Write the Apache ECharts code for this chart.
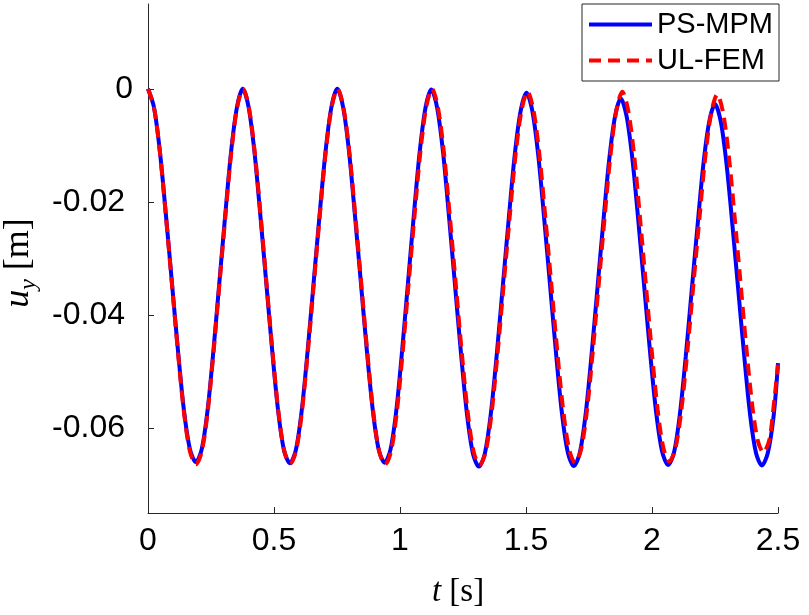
<!DOCTYPE html>
<html>
<head>
<meta charset="utf-8">
<script src="https://cdn.jsdelivr.net/npm/echarts@6/dist/echarts.min.js"></script>
<style>
html,body{margin:0;padding:0;background:#fff;}
#chart{width:809px;height:615px;}
</style>
</head>
<body>
<div id="chart"></div>
<script>
// Time samples and vertical displacement
const tMPM = [
0, 0.0238, 0.0475, 0.0713, 0.095, 0.1188, 0.1425, 0.1663, 0.19,
0.2133, 0.2365, 0.2598, 0.283, 0.3063, 0.3295, 0.3528, 0.376,
0.3994, 0.4228, 0.4461, 0.4695, 0.4929, 0.5163, 0.5396, 0.563,
0.5865, 0.61, 0.6335, 0.657, 0.6805, 0.704, 0.7275, 0.751,
0.7745, 0.798, 0.8215, 0.845, 0.8685, 0.892, 0.9155, 0.939,
0.9621, 0.9853, 1.0084, 1.0315, 1.0546, 1.0778, 1.1009, 1.124,
1.1476, 1.1713, 1.1949, 1.2185, 1.2421, 1.2658, 1.2894, 1.313,
1.3366, 1.3603, 1.3839, 1.4075, 1.4311, 1.4548, 1.4784, 1.502,
1.5255, 1.549, 1.5725, 1.596, 1.6195, 1.643, 1.6665, 1.690,
1.7133, 1.7365, 1.7598, 1.783, 1.8063, 1.8295, 1.8528, 1.876,
1.8995, 1.923, 1.9465, 1.97, 1.9935, 2.017, 2.0405, 2.064,
2.0873, 2.1105, 2.1338, 2.157, 2.1803, 2.2035, 2.2268, 2.250,
2.2733, 2.2965, 2.3198, 2.343, 2.3663, 2.3895, 2.4128, 2.436,
2.4595, 2.483, 2.5
];
const uMPM = [
0, -0.0033, -0.0112, -0.0224, -0.0343, -0.0462, -0.0568, -0.0637, -0.0660,
-0.0637, -0.0568, -0.0462, -0.0343, -0.0224, -0.0112, -0.0033, 0,
-0.0033, -0.0113, -0.0225, -0.0344, -0.0463, -0.0569, -0.0639, -0.0662,
-0.0639, -0.0569, -0.0463, -0.0344, -0.0225, -0.0113, -0.0033, 0,
-0.0033, -0.0112, -0.0225, -0.0344, -0.0463, -0.0568, -0.0638, -0.0661,
-0.0638, -0.0569, -0.0463, -0.0344, -0.0225, -0.0113, -0.0034, -0.0001,
-0.0034, -0.0114, -0.0228, -0.0348, -0.0468, -0.0575, -0.0645, -0.0668,
-0.0645, -0.0575, -0.0470, -0.0351, -0.0232, -0.0119, -0.0040, -0.0007,
-0.0040, -0.0119, -0.0231, -0.0350, -0.0469, -0.0575, -0.0644, -0.0667,
-0.0644, -0.0576, -0.0472, -0.0355, -0.0238, -0.0128, -0.0050, -0.0017,
-0.0049, -0.0127, -0.0237, -0.0354, -0.0471, -0.0574, -0.0642, -0.0665,
-0.0643, -0.0576, -0.0474, -0.0359, -0.0244, -0.0135, -0.0059, -0.0027,
-0.0059, -0.0136, -0.0244, -0.0359, -0.0474, -0.0577, -0.0644, -0.0666,
-0.0644, -0.0577, -0.0485
];
const tFEM = [
0, 0.0238, 0.0475, 0.0713, 0.095, 0.1188, 0.1425, 0.1663, 0.19,
0.2134, 0.2368, 0.2601, 0.2835, 0.3069, 0.3303, 0.3536, 0.377,
0.4004, 0.4238, 0.4471, 0.4705, 0.4939, 0.5173, 0.5406, 0.564,
0.5875, 0.611, 0.6345, 0.658, 0.6815, 0.705, 0.7285, 0.752,
0.7756, 0.7993, 0.8229, 0.8465, 0.8701, 0.8938, 0.9174, 0.941,
0.9643, 0.9875, 1.0108, 1.034, 1.0573, 1.0805, 1.1038, 1.127,
1.1506, 1.1743, 1.1979, 1.2215, 1.2451, 1.2688, 1.2924, 1.316,
1.3398, 1.3635, 1.3873, 1.411, 1.4348, 1.4585, 1.4823, 1.506,
1.5296, 1.5533, 1.5769, 1.6005, 1.6241, 1.6478, 1.6714, 1.695,
1.7184, 1.7418, 1.7651, 1.7885, 1.8119, 1.8353, 1.8586, 1.882,
1.9054, 1.9288, 1.9521, 1.9755, 1.9989, 2.0223, 2.0456, 2.069,
2.0928, 2.1165, 2.1403, 2.164, 2.1878, 2.2115, 2.2353, 2.259,
2.2819, 2.3048, 2.3276, 2.3505, 2.3734, 2.3963, 2.4191, 2.442,
2.4655, 2.483, 2.5
];
const uFEM = [
0, -0.0033, -0.0113, -0.0226, -0.0345, -0.0465, -0.0571, -0.0641, -0.0664,
-0.0641, -0.0571, -0.0465, -0.0345, -0.0226, -0.0113, -0.0033, 0,
-0.0033, -0.0113, -0.0225, -0.0345, -0.0464, -0.0570, -0.0640, -0.0663,
-0.0640, -0.0570, -0.0464, -0.0345, -0.0225, -0.0113, -0.0033, 0,
-0.0033, -0.0113, -0.0226, -0.0345, -0.0465, -0.0571, -0.0641, -0.0664,
-0.0641, -0.0571, -0.0465, -0.0345, -0.0226, -0.0113, -0.0033, 0,
-0.0033, -0.0113, -0.0226, -0.0346, -0.0466, -0.0572, -0.0642, -0.0665,
-0.0642, -0.0573, -0.0467, -0.0348, -0.0229, -0.0117, -0.0038, -0.0005,
-0.0038, -0.0117, -0.0228, -0.0346, -0.0464, -0.0569, -0.0638, -0.0661,
-0.0638, -0.0569, -0.0464, -0.0346, -0.0228, -0.0117, -0.0038, -0.0005,
-0.0038, -0.0116, -0.0227, -0.0345, -0.0463, -0.0567, -0.0636, -0.0659,
-0.0636, -0.0568, -0.0464, -0.0347, -0.0231, -0.0120, -0.0042, -0.0010,
-0.0042, -0.0118, -0.0225, -0.0339, -0.0453, -0.0554, -0.0621, -0.0643,
-0.0621, -0.0560, -0.0488
];
const seriesNames = ['PS-MPM', 'UL-FEM'];
const yTicks = [-0.06, -0.04, -0.02, 0];
const xTicks = [0, 0.5, 1, 1.5, 2, 2.5];

const pair = (t, u) => t.map((v, i) => [v, u[i]]);
const sans = '"Liberation Sans", Arial, Helvetica, sans-serif';
const serif = '"Liberation Serif", "Times New Roman", serif';
const axisCol = '#262626';

const chart = echarts.init(document.getElementById('chart'), null, {renderer: 'canvas'});
chart.setOption({
  animation: false,
  backgroundColor: '#ffffff',
  grid: {left: 148, right: 31, top: 4, bottom: 102, outerBoundsMode: 'none', containLabel: false},
  xAxis: {
    type: 'value', min: 0, max: 2.5, interval: 0.5,
    axisLine: {show: true, onZero: false, lineStyle: {color: axisCol, width: 1}},
    axisTick: {show: true, inside: true, length: 6, lineStyle: {color: axisCol}, customValues: xTicks},
    axisLabel: {customValues: xTicks, margin: 12, fontSize: 32, fontFamily: sans, color: '#000',
      formatter: v => String(v)},
    splitLine: {show: false}
  },
  yAxis: {
    type: 'value', min: -0.075, max: 0.015, interval: 0.005,
    axisLine: {show: true, onZero: false, lineStyle: {color: axisCol, width: 1}},
    axisTick: {show: true, inside: true, length: 6, lineStyle: {color: axisCol}, customValues: yTicks},
    axisLabel: {customValues: yTicks, margin: 15, color: '#000',
      formatter: v => Math.abs(v) < 1e-9 ? '{z|0}' : '{n|' + v.toFixed(2) + '}',
      rich: {
        z: {fontSize: 32, fontFamily: sans, color: '#000'},
        n: {fontSize: 32, fontFamily: sans, color: '#000', padding: [0, 8, 0, 0]}
      }},
    splitLine: {show: false}
  },
  legend: {
    orient: 'vertical', left: 582, top: 4,
    backgroundColor: '#ffffff', borderColor: axisCol, borderWidth: 1,
    padding: [6, 6, 6, 5], itemGap: 7, itemWidth: 63, itemHeight: 14,
    itemStyle: {opacity: 0},
    lineStyle: {width: 4},
    textStyle: {fontSize: 29, fontFamily: sans, color: '#000'},
    data: seriesNames
  },
  graphic: [
    {type: 'text', x: 458, y: 592,
      style: {text: '{i|t}{n| [s]}', align: 'center', verticalAlign: 'middle',
        rich: {i: {fontSize: 33, fontFamily: serif, fontStyle: 'italic', fill: '#000'},
               n: {fontSize: 33, fontFamily: serif, fill: '#000'}}}},
    {type: 'text', x: 19, y: 263, rotation: Math.PI / 2,
      style: {text: '{i|u}{s|y}{n| [m]}', align: 'center', verticalAlign: 'middle',
        rich: {i: {fontSize: 36, fontFamily: serif, fontStyle: 'italic', fill: '#000', lineHeight: 44, verticalAlign: 'middle'},
               s: {fontSize: 24, fontFamily: serif, fontStyle: 'italic', fill: '#000', lineHeight: 44, verticalAlign: 'bottom'},
               n: {fontSize: 36, fontFamily: serif, fill: '#000', lineHeight: 44, verticalAlign: 'middle'}}}}
  ],
  series: [
    {name: seriesNames[0], type: 'line', data: pair(tMPM, uMPM), smooth: 0.3, symbol: 'none',
      lineStyle: {color: '#0000ff', width: 4}, itemStyle: {color: '#0000ff'}, z: 2},
    {name: seriesNames[1], type: 'line', data: pair(tFEM, uFEM), smooth: 0.3, symbol: 'none',
      lineStyle: {color: '#ff0000', width: 4, type: [12, 7]}, itemStyle: {color: '#ff0000'}, z: 3}
  ]
});
</script>
</body>
</html>
